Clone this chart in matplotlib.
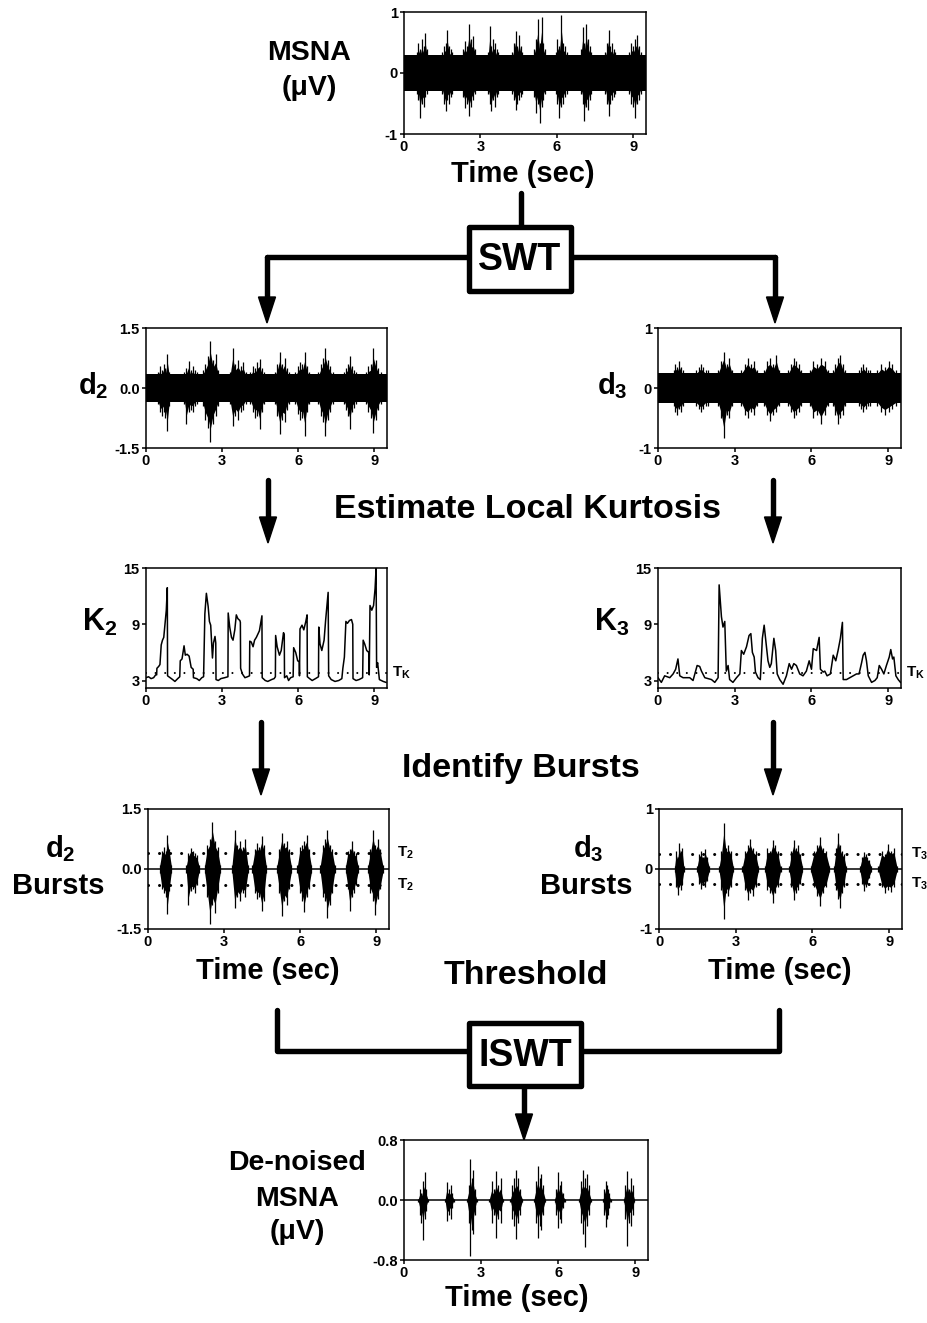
import numpy as np
import matplotlib
matplotlib.use('Agg')
import matplotlib.pyplot as plt
from matplotlib.patches import Polygon, Rectangle

plt.rcParams['font.family'] = 'Liberation Sans'
plt.rcParams['font.weight'] = 'bold'
plt.rcParams['mathtext.fontset'] = 'custom'
plt.rcParams['mathtext.rm'] = 'Liberation Sans:bold'
plt.rcParams['mathtext.it'] = 'Liberation Sans:bold'
plt.rcParams['mathtext.bf'] = 'Liberation Sans:bold'

# --- data: burst windows (sec) and spike heights per burst ---
X_TICKS = [0, 3, 6, 9]

# raw MSNA
msna_noise = 0.3
msna_on = [0.50, 1.50, 2.30, 3.30, 4.25, 5.10, 5.95, 6.95, 7.90, 8.85]
msna_off = [0.90, 1.90, 2.80, 3.70, 4.65, 5.55, 6.40, 7.35, 8.30, 9.30]
msna_up = [[0.35, 0.5, 0.4, 0.55, 0.45, 0.66, 0.4],
           [0.35, 0.45, 0.5, 0.71, 0.45, 0.4, 0.35],
           [0.4, 0.52, 0.45, 0.81, 0.55, 0.6, 0.4],
           [0.35, 0.77, 0.45, 0.55, 0.5, 0.4, 0.35],
           [0.35, 0.5, 0.69, 0.45, 0.63, 0.45, 0.35],
           [0.4, 0.55, 0.89, 0.5, 0.91, 0.5, 0.4],
           [0.35, 0.55, 0.45, 0.95, 0.5, 0.45, 0.35],
           [0.4, 0.76, 0.5, 0.81, 0.55, 0.45, 0.35],
           [0.35, 0.5, 0.71, 0.45, 0.5, 0.4, 0.35],
           [0.35, 0.5, 0.45, 0.55, 0.63, 0.45, 0.35]]
msna_dn = [[-0.35, -0.45, -0.73, -0.5, -0.55, -0.4, -0.35],
           [-0.35, -0.5, -0.63, -0.45, -0.5, -0.4, -0.35],
           [-0.4, -0.58, -0.5, -0.7, -0.55, -0.45, -0.35],
           [-0.35, -0.5, -0.63, -0.45, -0.55, -0.4, -0.35],
           [-0.35, -0.45, -0.6, -0.5, -0.45, -0.4, -0.35],
           [-0.4, -0.66, -0.5, -0.82, -0.55, -0.45, -0.35],
           [-0.35, -0.5, -0.74, -0.55, -0.5, -0.4, -0.35],
           [-0.35, -0.5, -0.78, -0.55, -0.6, -0.45, -0.35],
           [-0.35, -0.5, -0.71, -0.5, -0.45, -0.4, -0.35],
           [-0.35, -0.5, -0.55, -0.74, -0.5, -0.45, -0.35]]

# detail level 2
d2_noise = 0.35
d2_on = [0.46, 1.51, 2.23, 3.31, 4.11, 5.08, 5.89, 6.79, 7.79, 8.67]
d2_off = [0.92, 2.01, 2.85, 3.94, 4.66, 5.65, 6.44, 7.36, 8.28, 9.26]
d2_up = [[0.4, 0.55, 0.45, 0.6, 0.5, 0.85, 0.4],
         [0.4, 0.5, 0.68, 0.45, 0.55, 0.45, 0.4],
         [0.45, 0.6, 0.8, 1.18, 0.7, 0.85, 0.45],
         [0.4, 0.99, 0.6, 0.7, 0.55, 0.65, 0.4],
         [0.4, 0.55, 0.5, 0.65, 0.72, 0.5, 0.4],
         [0.4, 0.6, 0.91, 0.6, 0.75, 0.5, 0.4],
         [0.4, 0.55, 0.65, 0.6, 0.91, 0.55, 0.4],
         [0.4, 0.6, 0.75, 0.99, 0.7, 0.55, 0.4],
         [0.4, 0.5, 0.6, 0.81, 0.55, 0.45, 0.4],
         [0.4, 0.55, 0.6, 0.99, 0.7, 0.5, 0.4]]
d2_dn = [[-0.4, -0.6, -0.7, -0.6, -0.75, -1.07, -0.45],
         [-0.4, -0.9, -0.6, -0.55, -0.6, -0.45, -0.4],
         [-0.45, -0.8, -1.0, -1.34, -0.9, -0.7, -0.45],
         [-0.4, -0.94, -0.7, -0.8, -0.6, -0.55, -0.4],
         [-0.4, -0.6, -0.75, -0.7, -1.02, -0.6, -0.4],
         [-0.4, -0.7, -1.15, -0.8, -0.85, -0.55, -0.4],
         [-0.4, -0.65, -0.8, -0.75, -1.19, -0.6, -0.4],
         [-0.4, -0.7, -0.85, -1.19, -0.8, -0.6, -0.4],
         [-0.4, -0.55, -0.7, -1.02, -0.6, -0.5, -0.4],
         [-0.4, -0.6, -0.75, -1.12, -0.8, -0.55, -0.4]]

# detail level 3
d3_noise = 0.25
d3_on = [0.61, 1.49, 2.35, 3.26, 4.14, 5.09, 5.93, 6.84, 7.86, 8.58]
d3_off = [0.97, 1.96, 2.90, 3.88, 4.75, 5.61, 6.66, 7.31, 8.29, 9.30]
d3_up = [[0.3, 0.4, 0.35, 0.45, 0.35, 0.3],
         [0.3, 0.35, 0.4, 0.35, 0.3, 0.3],
         [0.3, 0.45, 0.6, 0.4, 0.5, 0.3],
         [0.3, 0.4, 0.5, 0.4, 0.45, 0.3],
         [0.3, 0.45, 0.5, 0.4, 0.55, 0.3],
         [0.3, 0.4, 0.5, 0.45, 0.4, 0.3],
         [0.3, 0.45, 0.4, 0.5, 0.45, 0.3],
         [0.3, 0.4, 0.5, 0.55, 0.4, 0.3],
         [0.3, 0.35, 0.4, 0.35, 0.3, 0.3],
         [0.3, 0.4, 0.35, 0.45, 0.4, 0.3]]
d3_dn = [[-0.3, -0.4, -0.45, -0.35, -0.4, -0.3],
         [-0.3, -0.35, -0.4, -0.35, -0.3, -0.3],
         [-0.3, -0.5, -0.83, -0.45, -0.5, -0.3],
         [-0.3, -0.45, -0.5, -0.4, -0.45, -0.3],
         [-0.3, -0.45, -0.55, -0.45, -0.4, -0.3],
         [-0.3, -0.4, -0.5, -0.45, -0.4, -0.3],
         [-0.3, -0.5, -0.45, -0.6, -0.45, -0.3],
         [-0.3, -0.45, -0.6, -0.5, -0.45, -0.3],
         [-0.3, -0.35, -0.4, -0.35, -0.3, -0.3],
         [-0.3, -0.4, -0.45, -0.4, -0.35, -0.3]]

# local kurtosis traces (t, K)
k2_t = [0, 0.1, 0.2, 0.3, 0.38, 0.42, 0.43, 0.5, 0.55, 0.6, 0.65, 0.7, 0.75, 0.8, 0.84,
        0.85, 0.95, 1.05, 1.14, 1.25, 1.33, 1.35, 1.42, 1.5, 1.55, 1.62, 1.7, 1.78, 1.86,
        1.87, 2.0, 2.1, 2.2, 2.27, 2.28, 2.32, 2.38, 2.45, 2.5, 2.55, 2.62, 2.66, 2.72, 2.75,
        2.76, 2.85, 2.95, 3.1, 3.23, 3.24, 3.3, 3.37, 3.43, 3.5, 3.56, 3.62, 3.7, 3.72,
        3.73, 3.8, 3.9, 4.0, 4.08, 4.09, 4.15, 4.22, 4.28, 4.35, 4.47, 4.55, 4.57,
        4.58, 4.7, 4.8, 4.95, 5.05, 5.1, 5.11, 5.17, 5.26, 5.33, 5.42, 5.45,
        5.46, 5.55, 5.62, 5.7, 5.8, 5.82, 5.9, 5.98, 6.04, 6.05, 6.07, 6.15, 6.22, 6.3, 6.35,
        6.36, 6.45, 6.55, 6.68, 6.8, 6.81, 6.86, 6.93, 7.02, 7.08, 7.14, 7.18,
        7.2, 7.3, 7.45, 7.6, 7.72, 7.76, 7.82, 7.88, 7.94, 8.02, 8.1, 8.15,
        8.16, 8.28, 8.4, 8.54, 8.56, 8.62, 8.7, 8.78, 8.8, 8.83, 8.9, 8.97, 9.03, 9.07,
        9.09, 9.13, 9.2, 9.35, 9.46]
k2_v = [3.3, 3.4, 3.2, 3.3, 3.6, 3.6, 4.3, 4.5, 4.7, 6.8, 7.3, 7.6, 9.0, 10.5, 12.9,
        3.5, 3.3, 3.1, 2.9, 3.2, 3.4, 5.1, 5.3, 6.7, 5.7, 5.8, 5.6, 4.4, 4.2,
        3.3, 3.2, 3.0, 3.3, 3.4, 4.8, 10.1, 12.3, 10.9, 9.3, 8.9, 5.4, 7.0, 7.7, 7.0,
        3.1, 3.0, 3.2, 3.3, 3.4, 10.2, 8.7, 7.6, 7.3, 8.4, 10.0, 9.6, 9.4, 9.2,
        4.3, 3.7, 3.3, 3.4, 3.5, 7.2, 7.1, 6.6, 7.3, 7.6, 8.3, 9.6, 9.9,
        3.3, 3.0, 2.9, 3.1, 3.2, 3.4, 7.8, 6.6, 5.7, 6.2, 8.1, 7.9,
        3.3, 3.5, 3.0, 3.3, 3.4, 6.5, 6.0, 5.1, 5.0, 3.5, 8.5, 8.9, 8.4, 9.3, 10.0,
        3.4, 3.2, 3.0, 3.2, 3.4, 8.7, 6.9, 6.2, 7.3, 9.4, 11.2, 12.4,
        3.5, 3.1, 2.9, 3.0, 3.2, 4.3, 5.5, 9.3, 9.1, 9.4, 9.5, 9.0,
        3.2, 3.0, 3.1, 3.3, 7.3, 6.9, 6.2, 6.0, 3.6, 11.0, 10.5, 11.0, 12.8, 15.0,
        4.4, 4.9, 3.1, 2.9, 2.8]

k3_t = [0, 0.13, 0.26, 0.46, 0.59, 0.69, 0.78, 0.85, 0.98, 1.24, 1.37, 1.47, 1.53, 1.63,
        1.7, 1.83, 2.09, 2.22, 2.35, 2.39, 2.48, 2.54, 2.61, 2.67, 2.74, 2.8, 2.93, 3.07,
        3.2, 3.26, 3.35, 3.46, 3.56, 3.63, 3.69, 3.76, 3.81, 3.91, 4.0, 4.08, 4.15, 4.24,
        4.3, 4.37, 4.43, 4.53, 4.6, 4.66, 4.76, 4.89, 5.02, 5.13, 5.22, 5.31, 5.41, 5.54,
        5.67, 5.8, 5.91, 6.0, 6.07, 6.2, 6.3, 6.35, 6.46, 6.52, 6.61, 6.74, 6.85, 6.95,
        7.04, 7.13, 7.21, 7.24, 7.37, 7.5, 7.63, 7.76, 7.86, 7.96, 8.02, 8.09, 8.15, 8.22,
        8.35, 8.48, 8.57, 8.65, 8.74, 8.83, 8.93, 9.04, 9.1, 9.17, 9.22, 9.3, 9.39, 9.48]
k3_v = [3.3, 2.8, 3.5, 3.3, 3.7, 4.2, 5.3, 3.5, 3.3, 3.3, 3.0, 4.0, 4.6, 4.5,
        4.0, 3.3, 3.1, 2.8, 3.3, 13.2, 9.8, 8.7, 9.3, 4.0, 4.6, 3.1, 2.8, 3.3,
        3.7, 6.2, 5.8, 6.6, 7.8, 8.0, 6.0, 5.5, 3.9, 3.3, 3.1, 7.5, 8.9, 6.6,
        5.1, 4.4, 4.8, 7.5, 6.2, 3.7, 3.1, 2.6, 3.5, 4.8, 4.2, 4.8, 4.6, 3.7,
        3.5, 4.0, 5.1, 4.2, 6.4, 6.2, 7.6, 4.2, 3.9, 4.0, 3.5, 3.7, 5.7, 5.1,
        6.2, 7.5, 9.2, 3.1, 3.1, 3.3, 3.5, 3.7, 3.7, 4.9, 5.7, 6.0, 5.1, 3.5,
        2.8, 3.0, 3.3, 4.6, 4.2, 3.7, 4.6, 5.5, 6.3, 5.3, 5.5, 3.5, 3.1, 2.8]
T_K = 3.8

# thresholded bursts, level 2
T2 = 0.4
d2b_up = [[0.1, 0.45, 0.55, 0.45, 0.84, 0.5, 0.1],
          [0.1, 0.4, 0.53, 0.45, 0.4, 0.35, 0.1],
          [0.1, 0.6, 0.75, 1.18, 0.7, 0.55, 0.1],
          [0.1, 0.98, 0.6, 0.7, 0.55, 0.75, 0.1],
          [0.1, 0.5, 0.65, 0.55, 0.82, 0.6, 0.1],
          [0.1, 0.5, 0.9, 0.65, 0.7, 0.5, 0.1],
          [0.1, 0.55, 0.6, 0.7, 0.86, 0.5, 0.1],
          [0.1, 0.6, 0.75, 0.97, 0.6, 0.5, 0.1],
          [0.1, 0.45, 0.5, 0.69, 0.45, 0.4, 0.1],
          [0.1, 0.5, 0.97, 0.6, 0.75, 0.5, 0.1]]
d2b_dn = [[-0.1, -0.5, -0.6, -0.7, -1.12, -0.55, -0.1],
          [-0.1, -0.89, -0.55, -0.5, -0.6, -0.4, -0.1],
          [-0.1, -0.7, -1.37, -0.9, -1.1, -0.6, -0.1],
          [-0.1, -0.98, -0.7, -0.8, -0.6, -0.7, -0.1],
          [-0.1, -0.6, -0.75, -0.7, -1.06, -0.8, -0.1],
          [-0.1, -0.6, -1.18, -0.8, -0.9, -0.5, -0.1],
          [-0.1, -0.6, -0.8, -1.08, -0.7, -0.5, -0.1],
          [-0.1, -0.7, -0.8, -1.22, -0.9, -0.6, -0.1],
          [-0.1, -0.5, -1.06, -0.7, -0.6, -0.4, -0.1],
          [-0.1, -0.6, -0.8, -1.14, -0.75, -0.5, -0.1]]

# thresholded bursts, level 3
T3 = 0.25
d3b_up = [[0.05, 0.3, 0.2, 0.44, 0.3, 0.35, 0.05],
          [0.05, 0.25, 0.3, 0.2, 0.33, 0.2, 0.05],
          [0.05, 0.3, 0.77, 0.35, 0.4, 0.3, 0.05],
          [0.05, 0.3, 0.4, 0.5, 0.35, 0.3, 0.05],
          [0.05, 0.35, 0.3, 0.49, 0.4, 0.3, 0.05],
          [0.05, 0.3, 0.49, 0.35, 0.4, 0.25, 0.05],
          [0.05, 0.3, 0.4, 0.54, 0.35, 0.3, 0.05],
          [0.05, 0.35, 0.6, 0.4, 0.3, 0.25, 0.05],
          [0.05, 0.2, 0.29, 0.25, 0.2, 0.15, 0.05],
          [0.05, 0.3, 0.25, 0.42, 0.3, 0.35, 0.05]]
d3b_dn = [[-0.05, -0.3, -0.44, -0.3, -0.35, -0.25, -0.05],
          [-0.05, -0.25, -0.33, -0.25, -0.3, -0.2, -0.05],
          [-0.05, -0.35, -0.84, -0.4, -0.45, -0.3, -0.05],
          [-0.05, -0.35, -0.51, -0.4, -0.45, -0.3, -0.05],
          [-0.05, -0.35, -0.4, -0.56, -0.4, -0.3, -0.05],
          [-0.05, -0.3, -0.51, -0.4, -0.35, -0.25, -0.05],
          [-0.05, -0.3, -0.45, -0.62, -0.4, -0.3, -0.05],
          [-0.05, -0.35, -0.5, -0.65, -0.4, -0.3, -0.05],
          [-0.05, -0.25, -0.37, -0.3, -0.25, -0.15, -0.05],
          [-0.05, -0.3, -0.4, -0.35, -0.38, -0.3, -0.05]]

# reconstructed (de-noised) MSNA
dn_on = [0.55, 1.60, 2.45, 3.32, 4.14, 5.06, 5.86, 6.81, 7.75, 8.55]
dn_off = [0.93, 1.94, 2.83, 3.85, 4.61, 5.50, 6.26, 7.28, 8.04, 8.97]
dn_up = [[0.02, 0.15, 0.1, 0.25, 0.37, 0.15, 0.02],
         [0.02, 0.24, 0.1, 0.15, 0.2, 0.1, 0.02],
         [0.02, 0.2, 0.55, 0.3, 0.4, 0.15, 0.02],
         [0.02, 0.25, 0.15, 0.39, 0.2, 0.3, 0.02],
         [0.02, 0.2, 0.3, 0.4, 0.3, 0.15, 0.02],
         [0.02, 0.25, 0.46, 0.3, 0.35, 0.2, 0.02],
         [0.02, 0.15, 0.37, 0.2, 0.25, 0.1, 0.02],
         [0.02, 0.25, 0.4, 0.3, 0.35, 0.2, 0.02],
         [0.02, 0.15, 0.26, 0.2, 0.15, 0.1, 0.02],
         [0.02, 0.2, 0.39, 0.15, 0.3, 0.2, 0.02]]
dn_dn = [[-0.02, -0.2, -0.3, -0.53, -0.25, -0.15, -0.02],
         [-0.02, -0.28, -0.15, -0.2, -0.25, -0.1, -0.02],
         [-0.02, -0.3, -0.74, -0.4, -0.45, -0.2, -0.02],
         [-0.02, -0.3, -0.2, -0.5, -0.25, -0.3, -0.02],
         [-0.02, -0.25, -0.35, -0.52, -0.3, -0.2, -0.02],
         [-0.02, -0.3, -0.5, -0.35, -0.4, -0.2, -0.02],
         [-0.02, -0.2, -0.37, -0.25, -0.3, -0.1, -0.02],
         [-0.02, -0.3, -0.45, -0.62, -0.35, -0.2, -0.02],
         [-0.02, -0.2, -0.36, -0.25, -0.2, -0.1, -0.02],
         [-0.02, -0.25, -0.61, -0.3, -0.35, -0.2, -0.02]]

# --- layout (pixels) ---
W, H = 928, 1323
XMAX = 9.5
LW_FLOW = 3.9

fig = plt.figure(figsize=(W / 100, H / 100), dpi=100)
fig.patch.set_facecolor('white')

bg = fig.add_axes([0, 0, 1, 1])
bg.set_xlim(0, W)
bg.set_ylim(H, 0)
bg.set_axis_off()


def panel(l, t, r, b, ylim, yticks, ylabels):
    ax = fig.add_axes([l / W, 1 - b / H, (r - l) / W, (b - t) / H])
    ax.set_xlim(0, XMAX)
    ax.set_ylim(*ylim)
    ax.set_xticks(X_TICKS)
    ax.set_yticks(yticks)
    ax.set_yticklabels(ylabels)
    for s in ax.spines.values():
        s.set_linewidth(1.1)
    ax.tick_params(direction='out', length=3, width=1.1, labelsize=10.5, pad=1.5)
    return ax


def bursts(ax, on, off, up, dn, body=0.6, lw=0.9):
    # dense core of each burst plus its individual spikes
    for a, b, u, d in zip(on, off, up, dn):
        t = np.linspace(a, b, len(u))
        u = np.asarray(u)
        d = np.asarray(d)
        ax.fill_between(t, d * body, u * body, color='black', lw=0)
        ax.vlines(t, d, u, color='black', lw=lw)


def noise_band(ax, level):
    ax.fill_between([0, XMAX], [-level, -level], [level, level], color='black', lw=0)


def dotted(ax, y):
    ax.plot([0, XMAX], [y, y], color='black', lw=2.2,
            linestyle=(0, (0.01, 3.6)), dash_capstyle='round')


def flow_line(xs, ys):
    bg.plot(xs, ys, color='black', lw=LW_FLOW, solid_capstyle='round',
            solid_joinstyle='round', zorder=2)


def flow_arrow(x, y0, y1, hw=8.5, hl=26):
    flow_line([x, x], [y0, y1 - hl + 2])
    bg.add_patch(Polygon([(x - hw, y1 - hl), (x + hw, y1 - hl), (x, y1)],
                         closed=True, color='black', zorder=3))


def flow_box(l, t, r, b, label):
    bg.add_patch(Rectangle((l, t), r - l, b - t, facecolor='white', edgecolor='black',
                           lw=LW_FLOW, joinstyle='round', zorder=4))
    bg.text((l + r) / 2, (t + b) / 2 + 1, label, fontsize=27, fontweight='bold',
            ha='center', va='center', zorder=5)


def label(x, y, s, size=21):
    bg.text(x, y, s, fontsize=size, fontweight='bold', ha='center', va='center')


# raw MSNA
ax = panel(404, 12, 646, 134, (-1, 1), [-1, 0, 1], ['-1', '0', '1'])
noise_band(ax, msna_noise)
bursts(ax, msna_on, msna_off, msna_up, msna_dn, body=0.75)
label(309, 53, 'MSNA', 20.5)
label(309, 88, '(μV)', 20.5)
label(523, 174, 'Time (sec)')

# SWT split
flow_line([521, 521], [193, 227])
flow_line([267, 775], [257, 257])
flow_arrow(267, 257, 323)
flow_arrow(775, 257, 323)
flow_box(469, 227, 571, 291, 'SWT')

# detail coefficients
ax = panel(146, 328, 387, 448, (-1.5, 1.5), [-1.5, 0, 1.5], ['-1.5', '0.0', '1.5'])
noise_band(ax, d2_noise)
bursts(ax, d2_on, d2_off, d2_up, d2_dn, body=0.75)
label(93, 386, '$d_2$')

ax = panel(658, 328, 901, 448, (-1, 1), [-1, 0, 1], ['-1', '0', '1'])
noise_band(ax, d3_noise)
bursts(ax, d3_on, d3_off, d3_up, d3_dn, body=0.8)
label(612, 386, '$d_3$')

flow_arrow(268, 480, 543)
flow_arrow(773, 480, 543)
label(528, 510, 'Estimate Local Kurtosis', 24.5)

# local kurtosis
for l, r, kt, kv, name in [(146, 387, k2_t, k2_v, '$K_2$'), (658, 901, k3_t, k3_v, '$K_3$')]:
    ax = panel(l, 568, r, 688, (2.2, 15), [3, 9, 15], ['3', '9', '15'])
    ax.plot(kt, kv, color='black', lw=1.1)
    ax.plot([0, XMAX], [T_K, T_K], color='black', lw=1.5,
            linestyle=(0, (0.01, 4.6)), dash_capstyle='round')
    ax.text(1.02, (T_K - 2.2) / (15 - 2.2), '$T_K$', transform=ax.transAxes,
            fontsize=11, ha='left', va='center')
    label(l - 46, 622, name, 22)

flow_arrow(261, 722, 795)
flow_arrow(773, 722, 795)
label(521, 768, 'Identify Bursts', 24.5)

# thresholded bursts
ax = panel(148, 809, 389, 929, (-1.5, 1.5), [-1.5, 0, 1.5], ['-1.5', '0.0', '1.5'])
ax.axhline(0, color='black', lw=1.1)
bursts(ax, d2_on, d2_off, d2b_up, d2b_dn, body=0.8)
for y in (T2, -T2):
    dotted(ax, y)
    ax.text(1.035, (y + 1.5) / 3.0, '$T_2$', transform=ax.transAxes,
            fontsize=11, ha='left', va='center')
label(60, 849, '$d_2$')
label(58, 886, 'Bursts')
label(268, 971, 'Time (sec)')

ax = panel(659, 809, 902, 929, (-1, 1), [-1, 0, 1], ['-1', '0', '1'])
ax.axhline(0, color='black', lw=1.1)
bursts(ax, d3_on, d3_off, d3b_up, d3b_dn, body=0.8)
for y in (T3, -T3):
    dotted(ax, y)
    ax.text(1.035, (y + 1) / 2.0, '$T_3$', transform=ax.transAxes,
            fontsize=11, ha='left', va='center')
label(588, 849, '$d_3$')
label(586, 886, 'Bursts')
label(780, 971, 'Time (sec)')
label(526, 975, 'Threshold', 24.5)

# inverse transform
flow_line([277, 277, 779, 779], [1010, 1051, 1051, 1010])
flow_box(469, 1023, 581, 1086, 'ISWT')
flow_arrow(524, 1086, 1140)

ax = panel(404, 1140, 648, 1260, (-0.8, 0.8), [-0.8, 0, 0.8], ['-0.8', '0.0', '0.8'])
ax.axhline(0, color='black', lw=1.1)
bursts(ax, dn_on, dn_off, dn_up, dn_dn, body=0.5)
label(297, 1163, 'De-noised', 20.5)
label(297, 1199, 'MSNA', 20.5)
label(297, 1232, '(μV)', 20.5)
label(517, 1298, 'Time (sec)')

fig.savefig('out.png', dpi=100, facecolor='white')
